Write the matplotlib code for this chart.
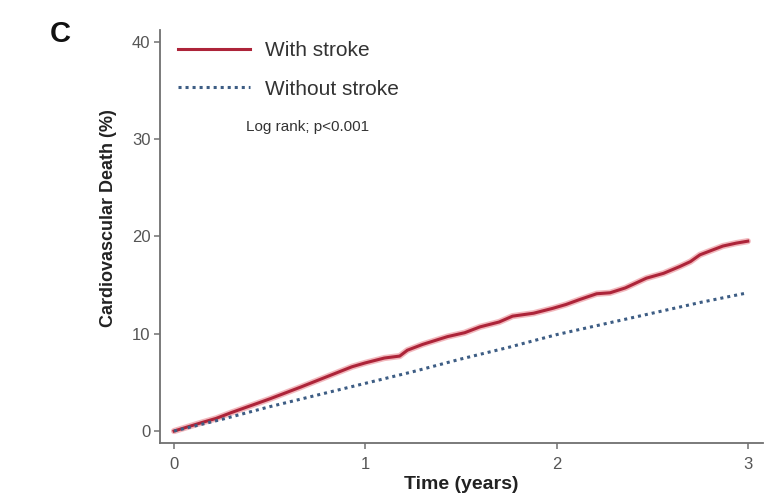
import matplotlib.pyplot as plt

plt.rcParams['font.family'] = ['Liberation Sans', 'DejaVu Sans']

# (years, % cardiovascular death)
t_stroke = [0, 0.05, 0.1, 0.15, 0.22, 0.3, 0.4, 0.5, 0.58, 0.66, 0.75, 0.84, 0.93, 1.0, 1.1, 1.18, 1.22,
            1.3, 1.43, 1.52, 1.6, 1.7, 1.77, 1.88, 1.98, 2.05, 2.12, 2.21, 2.28, 2.36, 2.47, 2.56, 2.645,
            2.7, 2.75, 2.87, 2.94, 3.0]
y_stroke = [0, 0.3, 0.6, 0.9, 1.3, 1.9, 2.6, 3.3, 3.9, 4.5, 5.2, 5.9, 6.6, 7.0, 7.5, 7.7, 8.3,
            8.9, 9.7, 10.1, 10.7, 11.2, 11.8, 12.1, 12.6, 13.0, 13.5, 14.1, 14.2, 14.7, 15.7, 16.2, 16.9,
            17.4, 18.1, 19.0, 19.3, 19.5]
t_nostroke = [0, 0.25, 0.5, 0.75, 1.0, 1.25, 1.5, 1.75, 2.0, 2.25, 2.5, 2.75, 3.0]
y_nostroke = [0, 1.2, 2.5, 3.7, 4.9, 6.1, 7.4, 8.6, 9.9, 11.0, 12.1, 13.2, 14.2]

fig = plt.figure(figsize=(7.81, 4.98), dpi=100)
ax = fig.add_axes([0.205, 0.110, 0.772, 0.830])

ax.plot(t_stroke, y_stroke, color='#f2b8bd', lw=4.5, solid_capstyle='round', zorder=2)
ax.plot(t_stroke, y_stroke, color='#ad2439', lw=2.2, label='With stroke', zorder=3)
ax.plot(t_nostroke, y_nostroke, color='#3d5d84', lw=2.2, ls=(0, (1, 1.3)), label='Without stroke', zorder=3)

ax.set_xlim(-0.073, 3.08)
ax.set_ylim(-1.25, 41.2)
ax.set_xticks([0, 1, 2, 3])
ax.set_yticks([0, 10, 20, 30, 40])
for s in ['top', 'right']:
    ax.spines[s].set_visible(False)
for s in ['left', 'bottom']:
    ax.spines[s].set_color('#707070')
    ax.spines[s].set_linewidth(1.3)
ax.tick_params(colors='#707070', labelcolor='#555555', labelsize=12, length=4, width=1.1, pad=3)
ax.tick_params(axis='x', pad=6)

ax.set_xlabel('Time (years)', fontsize=14, fontweight='bold', color='#222222', va='center')
ax.set_ylabel('Cardiovascular Death (%)', fontsize=13, fontweight='bold', color='#222222', va='center')
ax.xaxis.set_label_coords(0.5, -0.099)
ax.yaxis.set_label_coords(-0.086, 0.545)

leg = ax.legend(loc='upper left', bbox_to_anchor=(0.03, 0.972), frameon=False, fontsize=15,
                handlelength=3.45, handletextpad=0.72, labelspacing=0.92, borderaxespad=0, borderpad=0)
for txt in leg.get_texts():
    txt.set_color('#333333')
ax.text(0.143, 0.765, 'Log rank; p<0.001', transform=ax.transAxes, fontsize=11, color='#333333',
        va='center')

fig.text(0.064, 0.915, 'C', fontsize=21, fontweight='bold', color='#111111')

fig.savefig('out.png', dpi=100)
